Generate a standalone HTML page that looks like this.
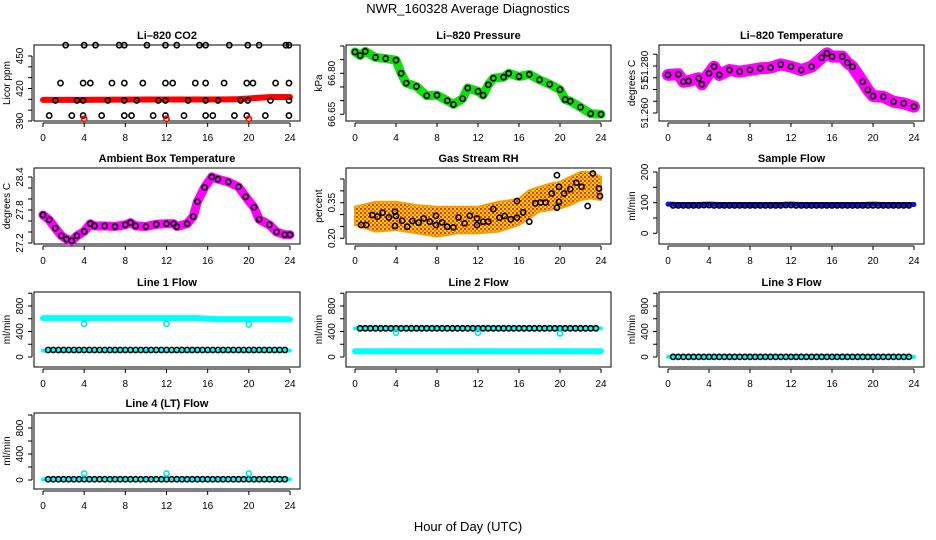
<!DOCTYPE html>
<html><head><meta charset="utf-8"><style>
html,body{margin:0;padding:0;background:#fff;}
svg{display:block;font-family:"Liberation Sans",sans-serif;}
</style></head><body>
<svg id="chart" width="936" height="540" viewBox="0 0 936 540" xmlns="http://www.w3.org/2000/svg">
<defs>
<pattern id="rhpat" width="4" height="4" patternUnits="userSpaceOnUse"><rect width="4" height="4" fill="#ffd400"/><rect width="2" height="2" fill="#e8302a"/><rect x="2" y="2" width="2" height="2" fill="#f07020"/></pattern>
</defs>
<text x="468" y="13" font-size="13" text-anchor="middle">NWR_160328  Average Diagnostics</text>
<text x="468" y="531" font-size="13" text-anchor="middle">Hour of Day (UTC)</text>
</svg>
<script>
// ---- data ----
const xTicks = [0,4,8,12,16,20,24];
// CO2
const co2BandHours = [0,2,4,6,8,10,12,14,16,18,19,20,21,22,23,24];
const co2BandVals = [409.5,409.5,409.5,409.6,409.7,409.8,409.8,409.9,409.9,410,410.2,410.8,411.5,412,412.2,412.2];
const co2HighHours = [2.2,4,5.1,7.4,7.9,10.1,11.9,13,15.2,15.8,18.1,19.9,21,23.6,23.9];
const co2HighVals = [460,460,460,460,460,460,460,460,460,460,460,460,460,460,460];
const co2MidHours = [1.7,3.9,4.6,6.7,7.9,9.7,11.9,12.6,14.8,15.8,17.6,19.8,20.4,22.6,23.9];
const co2MidVals = [425,425,425,425,425,425,425,425,425,425,425,425,425,425,425];
const co2LowHours = [1.2,3.3,3.9,6.3,7.9,9.1,11.2,11.9,14.1,15.8,17,19.2,19.9,22.1,23.9];
const co2LowVals = [409,409,409,409,409,409,409,409,409,409,409,409,409,409,409];
const co2BotHours = [0.6,2.8,3.9,5.7,7.9,8.6,10.7,11.9,13.7,15.8,16.5,18.6,19.8,21.6,23.9];
const co2BotVals = [395,395,395,395,395,395,395,395,395,395,395,395,395,395,395];
const co2RedHours = [4,12,20];
const co2RedVals = [392,392,392];
// Pressure
const presHours = [0,0.5,1,2,3,4,4.5,5,6,7,8,9,9.6,10.5,11,12,12.5,13,13.5,14.5,15,16,17,18,19,20,20.5,21,22,23,24];
const presVals = [66.878,66.865,66.88,66.858,66.854,66.848,66.80,66.764,66.752,66.718,66.72,66.70,66.686,66.707,66.746,66.734,66.72,66.758,66.782,66.786,66.80,66.788,66.796,66.776,66.76,66.74,66.704,66.698,66.676,66.652,66.65];
// Li-820 temperature
const tempHours = [0,1,1.5,2,3,3.3,4,4.5,5,6,7,8,9,10,11,12,13,14,15,15.5,16,17,17.5,18,19,19.5,20,21,22,23,24];
const tempVals = [51.2762,51.2765,51.2733,51.2736,51.2748,51.2722,51.2769,51.2797,51.2762,51.2783,51.2776,51.2783,51.2790,51.2793,51.2807,51.2797,51.2783,51.2797,51.2835,51.2854,51.2840,51.2840,51.2814,51.2797,51.2733,51.2698,51.2672,51.2669,51.2648,51.2641,51.2627];
// Ambient box temperature
const ambHours = [0,0.6,1.2,1.8,2.3,2.8,3.3,4,4.6,5,6,7,8,8.5,9,10,11,12,12.7,13,14,14.6,15,15.7,16.4,17,18,19,19.7,20.5,21,22,22.7,23.5,24];
const ambVals = [27.71,27.62,27.47,27.33,27.27,27.24,27.33,27.41,27.55,27.51,27.51,27.50,27.53,27.57,27.51,27.50,27.54,27.55,27.55,27.50,27.55,27.68,27.95,28.21,28.40,28.36,28.31,28.22,28.04,27.85,27.63,27.53,27.40,27.35,27.35];
// Gas stream RH
const rhBandHours = [0,2,4,6,8,10,12,14,15,16,17,18,19,20,21,22,23,24];
const rhUpper = [0.333,0.354,0.354,0.34,0.333,0.333,0.333,0.354,0.36,0.368,0.403,0.417,0.43,0.438,0.459,0.48,0.48,0.459];
const rhLower = [0.256,0.228,0.235,0.221,0.207,0.221,0.221,0.228,0.242,0.256,0.284,0.312,0.319,0.326,0.34,0.361,0.368,0.361];
const rhPtHours = [0.6,1.1,1.7,2.2,2.7,3.3,3.9,3.9,4,4.6,5.1,5.6,6.2,6.7,7.3,7.9,7.9,8.5,9,9.6,10.1,10.7,11.2,11.9,11.9,12.5,13,13.5,14.1,14.6,15.2,15.8,15.8,16.4,17,17.6,18.1,18.6,19.2,19.7,19.7,19.9,19.9,20.4,21,21.6,22.1,22.7,23.2,23.8,23.9];
const rhPtVals = [0.256,0.256,0.298,0.291,0.308,0.288,0.312,0.252,0.294,0.274,0.249,0.273,0.266,0.284,0.270,0.295,0.256,0.267,0.249,0.246,0.288,0.263,0.295,0.284,0.256,0.270,0.270,0.323,0.287,0.294,0.280,0.357,0.287,0.309,0.270,0.347,0.351,0.351,0.389,0.466,0.329,0.417,0.354,0.389,0.407,0.434,0.417,0.336,0.473,0.410,0.378];
// flows (hourly, 0..24)
const flowHours = [0,1,2,3,4,5,6,7,8,9,10,11,12,13,14,15,16,17,18,19,20,21,22,23,24];
const sampleBlue = [95,94,94,94,95,94,94,94,94,94,94,94,95,94,94,94,94,94,94,94,95,94,94,94,94];
const sampleBlack = [91,91,91,91,92,91,91,91,91,91,91,91,92,91,91,91,91,91,91,91,91,91,91,91,91];
const line1Cyan = [610,610,610,610,610,610,610,610,610,610,610,610,610,610,610,610,600,595,595,595,595,595,595,595,590];
const line1Black = [110,110,110,110,110,110,110,110,110,110,110,110,110,110,110,110,110,110,110,110,110,110,110,110,110];
const line2Cyan = [90,90,90,90,90,90,90,90,90,90,90,90,90,90,90,90,90,90,90,90,90,90,90,90,90];
const line2Black = [450,450,450,450,450,450,450,450,450,450,450,450,450,450,450,450,450,450,450,450,450,450,450,450,450];
const line3Cyan = [0,0,0,0,0,0,0,0,0,0,0,0,0,0,0,0,0,0,0,0,0,0,0,0,0];
const line3Black = [2,2,2,2,2,2,2,2,2,2,2,2,2,2,2,2,2,2,2,2,2,2,2,2,2];
const line4Cyan = [10,10,10,10,10,10,10,10,10,10,10,10,10,10,10,10,10,10,10,10,10,10,10,10,10];
const line4Black = [12,12,12,12,12,12,12,12,12,12,12,12,12,12,12,12,12,12,12,12,12,12,12,12,12];
const spikeHours = [4,12,20];
const line1Spikes = [520,520,510];
const line2Spikes = [380,380,370];
const line4Spikes = [100,100,100];

// ---- layout ----
const svg = document.getElementById('chart');
const NS = 'http://www.w3.org/2000/svg';
const cols = [{x0:43,x24:290},{x0:355,x24:601},{x0:668,x24:914}];
const rows = [{t:45,b:121},{t:168,b:244},{t:292,b:367},{t:413,b:489}];
function el(tag, attrs, parent){const e=document.createElementNS(NS,tag);for(const k in attrs)e.setAttribute(k,attrs[k]);(parent||svg).appendChild(e);return e;}

function panel(name,title,ylab,col,row,ref,ticks,labels){
  const c=cols[col], r=rows[row];
  const g=el('g',{});
  
  
  const L=c.x0-9, R=c.x24+10;
  const xs=h=>c.x0+h*(c.x24-c.x0)/24;
  const ys=v=>ref[1]+(v-ref[0])*(ref[3]-ref[1])/(ref[2]-ref[0]);
  const box=el('rect',{x:L,y:r.t,width:R-L,height:r.b-r.t,fill:'none',stroke:'#000','stroke-width':1},g);
  
  
  const t=el('text',{x:(L+R)/2,y:r.t-6,'font-size':11,'font-weight':'bold','text-anchor':'middle'},g);
  t.textContent=title;
  
  
  const xa=el('g',{},g);
  
  
  el('line',{x1:xs(0),x2:xs(24),y1:r.b+2,y2:r.b+2,stroke:'#000'},xa);
  xTicks.forEach(h=>{
    el('line',{x1:xs(h),x2:xs(h),y1:r.b+2,y2:r.b+6,stroke:'#000'},xa);
    const tl=el('text',{x:xs(h),y:r.b+20,'font-size':10,'text-anchor':'middle'},xa);
    tl.textContent=h;
    
    
  });
  const ya=el('g',{},g);
  
  
  const yt=ticks.map(ys);
  el('line',{x1:L-2,x2:L-2,y1:Math.min(...yt),y2:Math.max(...yt),stroke:'#000'},ya);
  ticks.forEach(v=>el('line',{x1:L-6,x2:L-2,y1:ys(v),y2:ys(v),stroke:'#000'},ya));
  labels.forEach(lb=>{
    const y=ys(lb[0]);
    const tl=el('text',{x:L-11,y:y,'font-size':10,'text-anchor':'middle',transform:`rotate(-90 ${L-11} ${y})`},ya);
    tl.textContent=lb[1];
    
    
  });
  const yl=el('text',{x:L-24,y:(r.t+r.b)/2,'font-size':10,'text-anchor':'middle',transform:`rotate(-90 ${L-24} ${(r.t+r.b)/2})`},ya);
  yl.textContent=ylab;
  
  
  const clip=el('g',{},g);
  return {g:clip,xs,ys};
}
function band(p,hours,vals,color,w,name){
  const pl=el('polyline',{points:hours.map((h,i)=>p.xs(h)+','+p.ys(vals[i])).join(' '),fill:'none',stroke:color,'stroke-width':w,'stroke-linejoin':'round','stroke-linecap':'round'},p.g);
  
  
}
function pts(p,hours,vals,color,rr,name,sw){
  hours.forEach((h,i)=>{
    const c=el('circle',{cx:p.xs(h),cy:p.ys(vals[i]),r:rr,fill:'none',stroke:color,'stroke-width':sw||1.6},p.g);
    
    
  });
}
const halfHours=[];for(let h=0.5;h<=23.95;h+=0.5)halfHours.push(h);
function flowPts(p,vals,color,name){
  halfHours.forEach(h=>{
    const v=vals[Math.round(h)];
    const c=el('circle',{cx:p.xs(h),cy:p.ys(v),r:2.6,fill:'none',stroke:color,'stroke-width':1.6},p.g);
    
    
  });
}

// CO2
let p=panel('co2','Li\u2013820 CO2','Licor ppm',0,0,[390,121,450,56],[390,400,410,420,430,440,450],[[390,'390'],[420,'420'],[450,'450']]);
band(p,co2BandHours,co2BandVals,'#f00',6,'co2-series-band');
pts(p,co2HighHours,co2HighVals,'#000',2.6,'co2-point');
pts(p,co2MidHours,co2MidVals,'#000',2.6,'co2-point');
pts(p,co2LowHours,co2LowVals,'#000',2.6,'co2-point');
pts(p,co2BotHours,co2BotVals,'#000',2.6,'co2-point');
pts(p,co2RedHours,co2RedVals,'#f00',2.6,'co2-red-point');
// Pressure
p=panel('pressure','Li\u2013820 Pressure','kPa',1,0,[66.65,114.3,66.80,73.3],[66.65,66.70,66.75,66.80,66.85,66.90],[[66.65,'66.65'],[66.80,'66.80']]);
band(p,presHours,presVals,'#11dd11',9,'pressure-series-band');
pts(p,presHours,presVals,'#000',2.6,'pressure-point');
// Li-820 Temp
p=panel('li820-temp','Li\u2013820 Temperature','degrees C',2,0,[51.26,113,51.28,66],[51.26,51.265,51.27,51.275,51.28,51.285],[[51.26,'51.260'],[51.2728,'51.'],[51.28,'51.280']]);
band(p,tempHours,tempVals,'#ff00ff',12,'temp-series-band');
pts(p,tempHours,tempVals,'#000',2.6,'temp-point');
// Ambient
p=panel('ambient','Ambient Box Temperature','degrees C',0,1,[27.2,243,28.4,177],[27.2,27.4,27.6,27.8,28.0,28.2,28.4],[[27.2,'27.2'],[27.8,'27.8'],[28.4,'28.4']]);
band(p,ambHours,ambVals,'#ff00ff',9,'ambient-series-band');
pts(p,ambHours,ambVals,'#000',2.6,'ambient-point');
// RH
p=panel('rh','Gas Stream RH','percent',1,1,[0.20,238.3,0.35,202.7],[0.20,0.25,0.30,0.35,0.40,0.45],[[0.20,'0.20'],[0.35,'0.35']]);
const poly=el('polygon',{points:rhBandHours.map((h,i)=>p.xs(h)+','+p.ys(rhUpper[i])).concat(rhBandHours.slice().reverse().map((h,i)=>p.xs(h)+','+p.ys(rhLower[rhBandHours.length-1-i]))).join(' '),fill:'url(#rhpat)',stroke:'#f5a000','stroke-width':2},p.g);


pts(p,rhPtHours,rhPtVals,'#000',2.6,'rh-point');
// Sample flow
p=panel('sample-flow','Sample Flow','ml/min',2,1,[0,233.3,200,172],[0,50,100,150,200],[[0,'0'],[100,'100'],[200,'200']]);
band(p,flowHours,sampleBlue,'#1010ee',5,'sample-flow-band');
flowPts(p,sampleBlack,'#000','sample-flow-point');
// Line flows
const fticks=[0,200,400,600,800,1000], flabels=[[0,'0'],[400,'400'],[800,'800']];
p=panel('line1-flow','Line 1 Flow','ml/min',0,2,[0,357,800,306],fticks,flabels);
band(p,flowHours,line1Cyan,'#00ffff',6,'line1-cyan-band');
band(p,flowHours,line1Black.map(v=>v-10),'#00ffff',4,'line1-cyan-low');
flowPts(p,line1Black,'#000','line1-point');
pts(p,spikeHours,line1Spikes,'#00e5ee',2.6,'line1-spike');
p=panel('line2-flow','Line 2 Flow','ml/min',1,2,[0,357,800,306],fticks,flabels);
band(p,flowHours,line2Cyan,'#00ffff',6,'line2-cyan-band');
band(p,flowHours,line2Black,'#00ffff',4,'line2-cyan-high');
flowPts(p,line2Black,'#000','line2-point');
pts(p,spikeHours,line2Spikes,'#00e5ee',2.6,'line2-spike');
p=panel('line3-flow','Line 3 Flow','ml/min',2,2,[0,357,800,306],fticks,flabels);
band(p,flowHours,line3Cyan,'#00ffff',4,'line3-cyan-band');
flowPts(p,line3Black,'#000','line3-point');
p=panel('line4-flow','Line 4 (LT) Flow','ml/min',0,3,[0,480,800,428],fticks,flabels);
band(p,flowHours,line4Cyan,'#00ffff',4,'line4-cyan-band');
flowPts(p,line4Black,'#000','line4-point');
pts(p,spikeHours,line4Spikes,'#00e5ee',2.6,'line4-spike');
</script>
</body></html>
